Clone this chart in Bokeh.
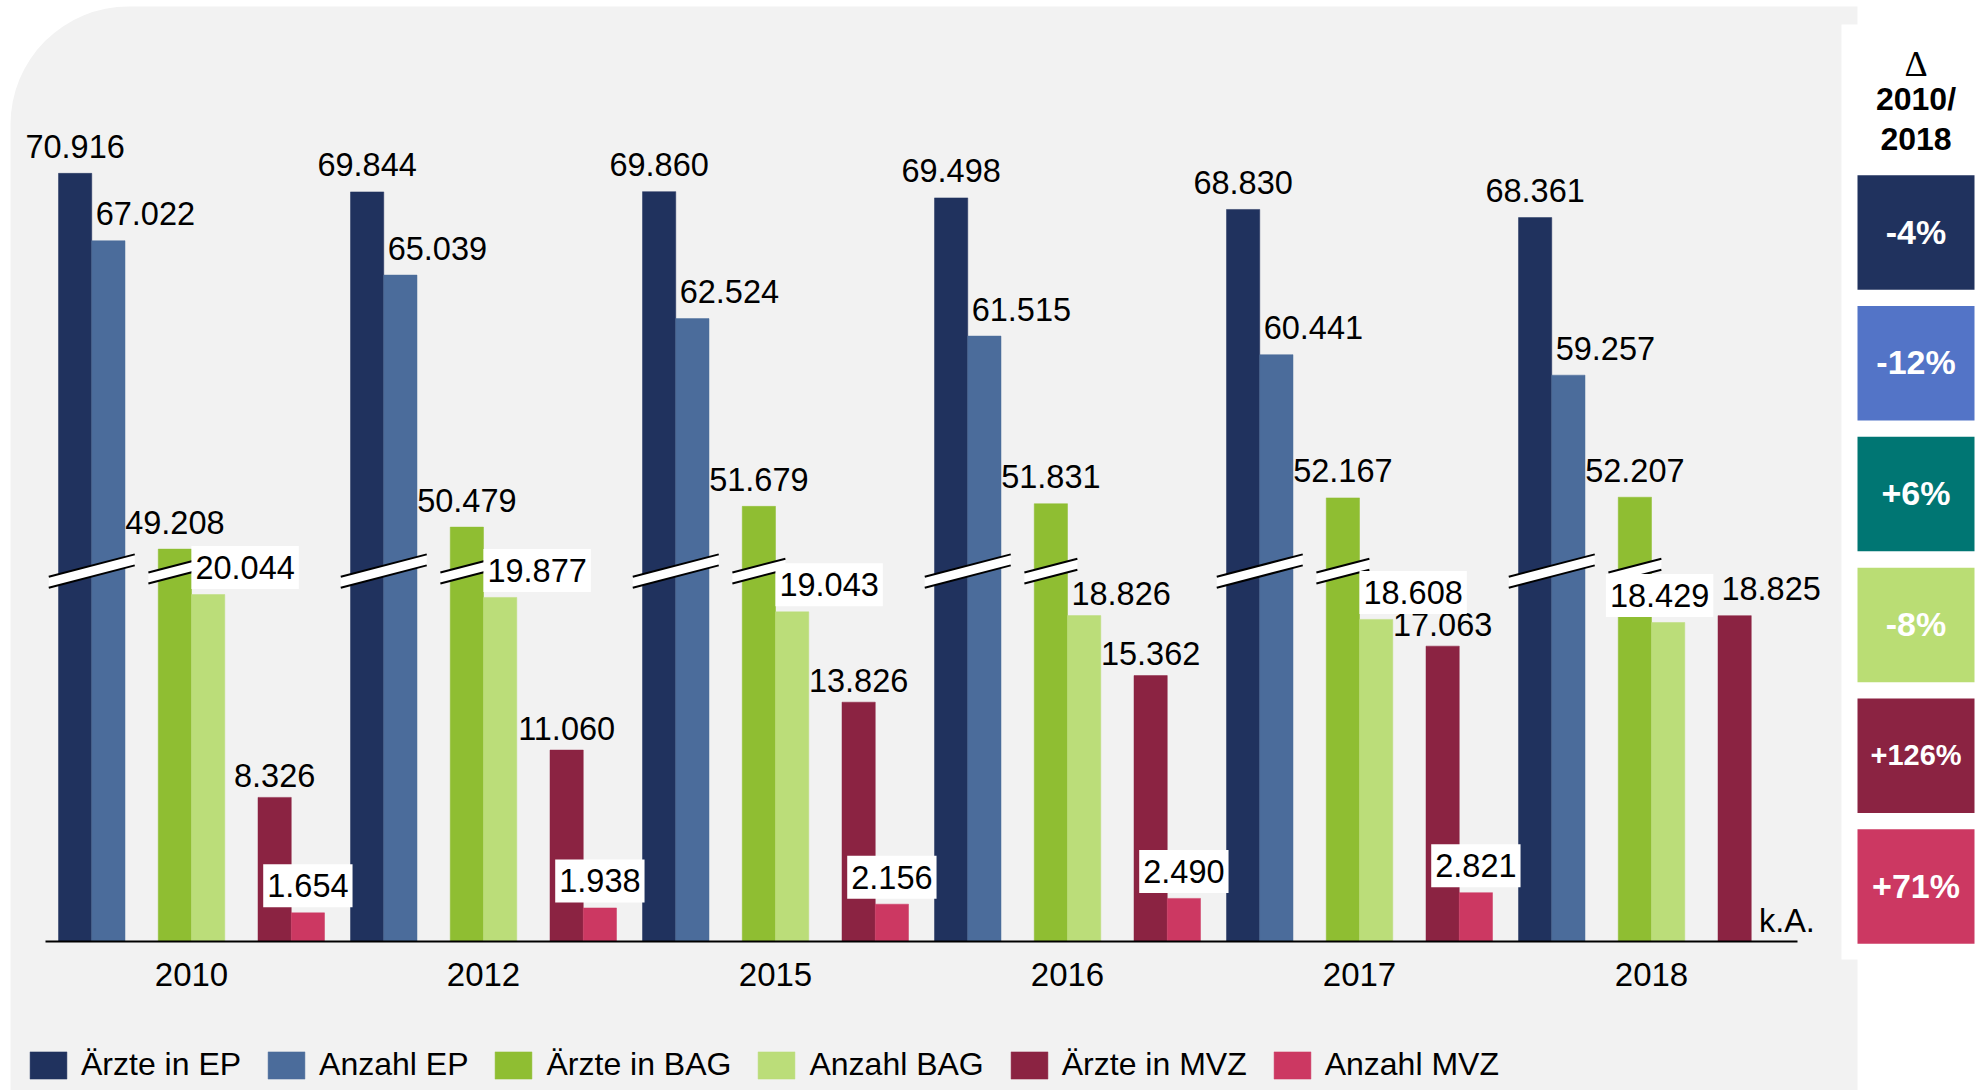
from bokeh.plotting import figure
from bokeh.models import (Range1d, LinearAxis, FixedTicker, Legend, LegendItem,
                          BoxAnnotation, ColumnDataSource)
from bokeh.core.properties import value
from bokeh.embed import file_html
from bokeh.resources import INLINE

# ---------------- data ----------------
years = ["2010", "2012", "2015", "2016", "2017", "2018"]
series_names = ["Ärzte in EP", "Anzahl EP", "Ärzte in BAG", "Anzahl BAG", "Ärzte in MVZ", "Anzahl MVZ"]
aerzte_ep = [70916, 69844, 69860, 69498, 68830, 68361]
anzahl_ep = [67022, 65039, 62524, 61515, 60441, 59257]
aerzte_bag = [49208, 50479, 51679, 51831, 52167, 52207]
anzahl_bag = [20044, 19877, 19043, 18826, 18608, 18429]
aerzte_mvz = [8326, 11060, 13826, 15362, 17063, 18825]
anzahl_mvz = [1654, 1938, 2156, 2490, 2821, None]
missing_label = "k.A."
delta_header = ["\u0394", "2010/", "2018"]
delta_labels = ["-4%", "-12%", "+6%", "-8%", "+126%", "+71%"]

series_values = [aerzte_ep, anzahl_ep, aerzte_bag, anzahl_bag, aerzte_mvz, anzahl_mvz]

# ---------------- style / layout ----------------
colors = ["#20325E", "#4B6C9B", "#8FBE32", "#BBDD79", "#8B2342", "#CC3862"]
delta_colors = ["#20325E", "#5374C7", "#007673", "#BADD74", "#8B2342", "#CC3862"]
delta_font_sizes = ["34px", "34px", "34px", "34px", "29px", "34px"]
broken = [True, True, True, False, False, False]   # bars drawn with an axis break
CUT = 26540            # amount removed from broken bars
BREAK_LEVEL = 21400    # where the break mark sits
FONT = "Liberation Sans"
LABEL_SIZE = "32.5px"

W, H = 1982, 1090
GX = 292.0             # px per category
SY = 0.01731           # px per unit of count
BASE = 941.0           # canvas y of zero line
X0 = 0.5 - 191.0 / GX
BAR_W = 33.25 / GX
offsets = [-3.5, -2.5, -0.5, 0.5, 2.5, 3.5]
LIFT = 11              # baseline compensation for label placement

label_dx = [[0] * 6, [37] * 6, [0] * 6, [37, 37, 37, 37, 37, -8.5], [0, 0, 0, 0, 0, 36.5], [0] * 6]
label_gap = [[16] * 6, [16] * 6, [16] * 6, [16, 16, 16, 11, 16, 16], [11, 11, 11, 11, 11, 16], [16] * 6]
label_box = [[False] * 6, [False] * 6, [False] * 6, [True, True, True, False, True, True],
             [False] * 6, [True] * 6]


def x_of_px(px):
    return X0 + px / GX


def y_of_px(py):
    return (BASE - py) / SY


p = figure(width=W, height=H,
           x_range=Range1d(X0, X0 + W / GX),
           y_range=Range1d(y_of_px(H), y_of_px(0)),
           x_axis_type=None, y_axis_type=None,
           toolbar_location=None, output_backend="svg", tools="",
           min_border=0, background_fill_color="white", border_fill_color="white",
           outline_line_color=None)

ROW0, ROW = 232.0, 130.8
p.extra_y_ranges = {"side": Range1d((ROW0 - H) / ROW, ROW0 / ROW)}

# background panels
p.add_layout(BoxAnnotation(left=x_of_px(10), right=x_of_px(1857), top=y_of_px(6), bottom=y_of_px(H + 30),
                           fill_color="#F2F2F2", fill_alpha=1, line_color=None, level="underlay",
                           border_radius=(118, 0, 0, 0)))
p.add_layout(BoxAnnotation(left=x_of_px(1841), right=x_of_px(W + 30), top=y_of_px(24), bottom=y_of_px(959),
                           fill_color="white", fill_alpha=1, line_color=None, level="underlay"))

# bars
renderers = []
for k, vals in enumerate(series_values):
    xs, tops = [], []
    for i, v in enumerate(vals):
        if v is None:
            continue
        xs.append(i + 0.5 + offsets[k] * BAR_W)
        tops.append(v - CUT if broken[k] else v)
    src = ColumnDataSource(dict(x=xs, top=tops))
    r = p.vbar(x="x", top="top", bottom=0, width=BAR_W, source=src,
               fill_color=colors[k], line_color=colors[k], line_width=0.5)
    renderers.append(r)

# break marks
SLOPE, HALF_T = 0.26, 5.5
break_specs = [(-3.0, 43.0), (-0.5, 26.5)]
pxs, pys, lxs, lys = [], [], [], []
for i in range(len(years)):
    for off, hw in break_specs:
        cx = i + 0.5 + off * BAR_W
        xl, xr = cx - hw / GX, cx + hw / GX
        yl = BREAK_LEVEL - SLOPE * hw / SY
        yr = BREAK_LEVEL + SLOPE * hw / SY
        t = HALF_T / SY
        pxs.append([xl, xr, xr, xl])
        pys.append([yl + t, yr + t, yr - t, yl - t])
        lxs += [[xl, xr], [xl, xr]]
        lys += [[yl + t, yr + t], [yl - t, yr - t]]
p.patches(pxs, pys, fill_color="white", line_color=None)
p.multi_line(lxs, lys, line_color="black", line_width=2)

# value labels
plain = dict(x=[], y=[], text=[], dx=[], dy=[])
boxed = dict(x=[], y=[], text=[], dx=[], dy=[])
for k, vals in enumerate(series_values):
    for i, v in enumerate(vals):
        if v is None:
            continue
        d = boxed if label_box[k][i] else plain
        d["x"].append(i + 0.5 + offsets[k] * BAR_W)
        d["y"].append(v - CUT if broken[k] else v)
        d["text"].append(f"{v:,}".replace(",", "."))
        d["dx"].append(label_dx[k][i])
        d["dy"].append(-label_gap[k][i] - LIFT)
# missing value note
for k, vals in enumerate(series_values):
    for i, v in enumerate(vals):
        if v is None:
            plain["x"].append(i + 0.5 + offsets[k] * BAR_W)
            plain["y"].append(0)
            plain["text"].append(missing_label)
            plain["dx"].append(19)
            plain["dy"].append(-10 - LIFT)

p.text(x="x", y="y", text="text", x_offset="dx", y_offset="dy", source=ColumnDataSource(plain),
       text_align="center", text_baseline="alphabetic", text_font=value(FONT),
       text_font_size=LABEL_SIZE, text_color="black")
p.text(x="x", y="y", text="text", x_offset="dx", y_offset="dy", source=ColumnDataSource(boxed),
       text_align="center", text_baseline="alphabetic", text_font=value(FONT),
       text_font_size=LABEL_SIZE, text_color="black",
       background_fill_color="white", padding=dict(left=4, right=4, top=10, bottom=10))

# x axis (category labels)
xaxis = LinearAxis(fixed_location=0,
                   ticker=FixedTicker(ticks=[i + 0.5 for i in range(len(years))]),
                   major_label_overrides={i + 0.5: y for i, y in enumerate(years)},
                   bounds=(0, len(years)))
xaxis.axis_line_color = "black"
xaxis.axis_line_width = 2
xaxis.major_tick_line_color = None
xaxis.minor_tick_line_color = None
xaxis.major_tick_out = 0
xaxis.major_tick_in = 0
xaxis.major_label_standoff = 21
xaxis.major_label_text_font = FONT
xaxis.major_label_text_font_size = "33px"
xaxis.major_label_text_color = "black"
p.add_layout(xaxis, "below")

# legend
legend = Legend(items=[LegendItem(label=n, renderers=[r]) for n, r in zip(series_names, renderers)],
                location=(25, 7), orientation="horizontal",
                glyph_width=46, glyph_height=34, label_standoff=10, spacing=22,
                padding=0, margin=0, border_line_color=None, background_fill_alpha=0,
                label_text_font=FONT, label_text_font_size="32px", label_text_color="black")
p.add_layout(legend)

# delta panel
n = len(delta_labels)
bx_l, bx_r = x_of_px(1857), x_of_px(1974)
half_h = 57.25 / ROW
p.quad(left=[bx_l] * n, right=[bx_r] * n, top=[-i + half_h for i in range(n)],
       bottom=[-i - half_h for i in range(n)], fill_color=delta_colors, line_color=None,
       y_range_name="side")
bx_c = (bx_l + bx_r) / 2
delta_src = ColumnDataSource(dict(x=[bx_c] * n, y=[-i for i in range(n)], text=delta_labels,
                                  size=delta_font_sizes))
p.text(x="x", y="y", text="text", source=delta_src, y_offset=-1,
       text_align="center", text_baseline="middle", text_font=value(FONT),
       text_font_size="size", text_font_style="bold", text_color="white", y_range_name="side")
header_px = [63, 98, 138]
p.text(x=[bx_c], y=[(ROW0 - header_px[0]) / ROW], text=[delta_header[0]],
       text_align="center", text_baseline="alphabetic", text_font=value("Liberation Serif"),
       text_font_size="36px", text_color="black", y_range_name="side")
p.text(x=[bx_c] * 2, y=[(ROW0 - v) / ROW for v in header_px[1:]], text=delta_header[1:],
       text_align="center", text_baseline="alphabetic", text_font=value(FONT),
       text_font_size="32px", text_font_style="bold", text_color="black", y_range_name="side")

open("out.html", "w").write(file_html(p, INLINE))
